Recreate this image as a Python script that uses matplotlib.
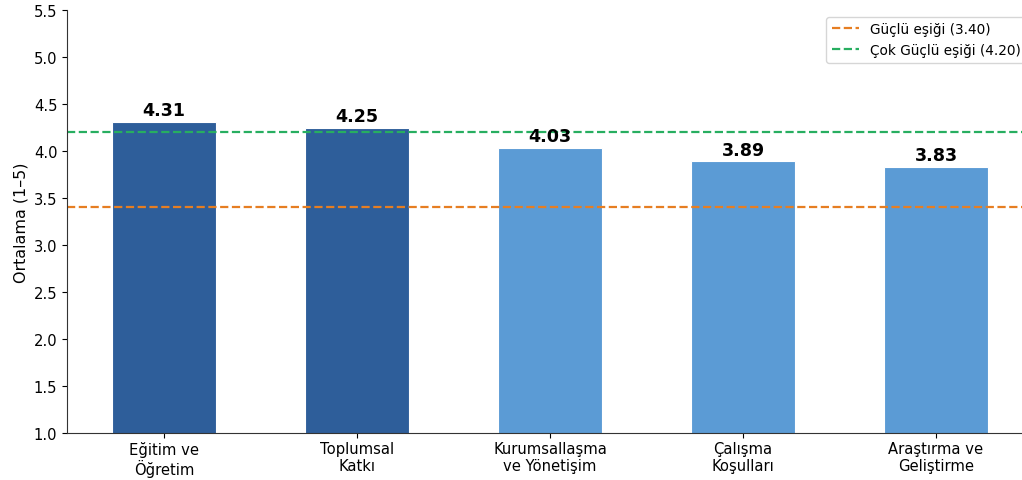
import matplotlib
matplotlib.use("Agg")
import matplotlib.pyplot as plt

# boyut ortalamalari
boyutlar = ["Eğitim ve\nÖğretim", "Toplumsal\nKatkı", "Kurumsallaşma\nve Yönetişim",
            "Çalışma\nKoşulları", "Araştırma ve\nGeliştirme"]
ortalamalar = [4.31, 4.25, 4.03, 3.89, 3.83]

guclu_esik = 3.40
cok_guclu_esik = 4.20

koyu_mavi = "#2E5E9A"
acik_mavi = "#5B9BD5"
renkler = [koyu_mavi if v >= cok_guclu_esik else acik_mavi for v in ortalamalar]

fig = plt.figure(figsize=(10.22, 4.81), dpi=100)
ax = fig.add_axes([67 / 1022, 47 / 481, 966 / 1022, 423 / 481])

x = range(len(boyutlar))
cubuklar = ax.bar(x, ortalamalar, width=0.54, color=renkler,
                  edgecolor="white", linewidth=0.8)

ax.axhline(guclu_esik, color="#E67E22", linestyle="--", linewidth=1.6,
           label="Güçlü eşiği (3.40)")
ax.axhline(cok_guclu_esik, color="#27AE60", linestyle="--", linewidth=1.6,
           label="Çok Güçlü eşiği (4.20)")

for c, v in zip(cubuklar, ortalamalar):
    ax.text(c.get_x() + c.get_width() / 2, v + 0.03, f"{v:.2f}",
            ha="center", va="bottom", fontsize=12.6, fontweight="bold")

ax.set_xticks(list(x))
ax.set_xticklabels(boyutlar, fontsize=10.6, linespacing=1.1)
ax.tick_params(axis="x", pad=2.5)
ax.tick_params(axis="y", labelsize=10.6)
ax.set_xlim(-0.5025, 4.5025)
ax.set_ylim(1.0, 5.5)
ax.set_ylabel("Ortalama (1–5)", fontsize=11.4)

ax.spines["top"].set_visible(False)
ax.spines["right"].set_visible(False)
for s in ("left", "bottom"):
    ax.spines[s].set_color("#333333")

ax.legend(loc="upper right", fontsize=9.8)

fig.savefig("out.png", dpi=100)
